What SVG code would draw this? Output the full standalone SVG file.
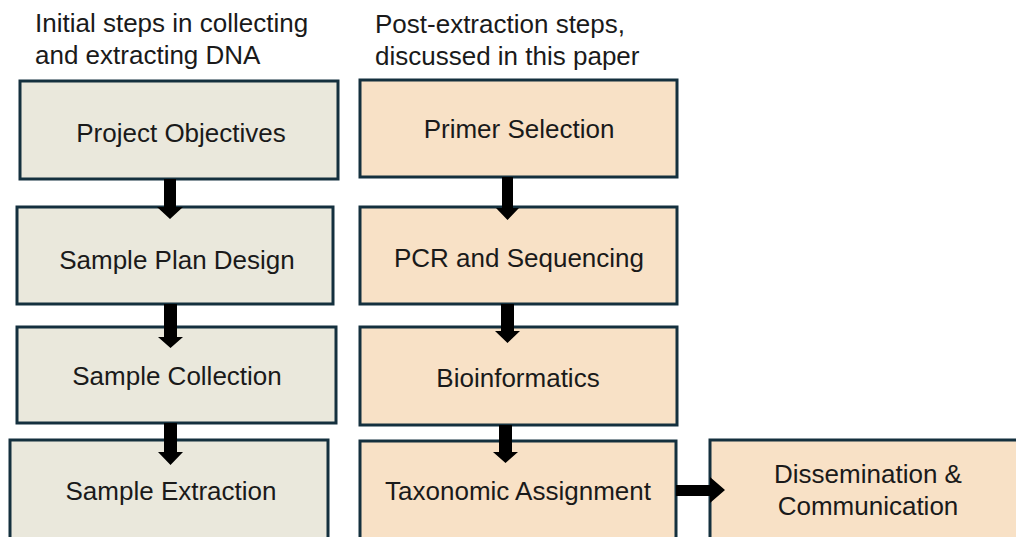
<svg xmlns="http://www.w3.org/2000/svg" width="1016" height="537" viewBox="0 0 1016 537">
<style>
text{font-family:"Liberation Sans",Arial,sans-serif;font-size:26px;fill:#1a1a1a}
.c{text-anchor:middle}
.l{fill:#EAE8DC;stroke:#14303E;stroke-width:3}
.r{fill:#F8E1C6;stroke:#14303E;stroke-width:3}
.a{fill:#000}
</style>
<rect width="1016" height="537" fill="#fff"/>
<g id="headers">
<text x="35" y="31.5">Initial steps in collecting</text>
<text x="35" y="64">and extracting DNA</text>
<text x="375" y="32.5">Post-extraction steps,</text>
<text x="375" y="65">discussed in this paper</text>
</g>
<g id="project-objectives"><rect class="l" x="20" y="81" width="318" height="98"/><text class="c" x="181" y="141.5">Project Objectives</text></g>
<g id="sample-plan-design"><rect class="l" x="17" y="207" width="316" height="97"/><text class="c" x="177" y="269">Sample Plan Design</text></g>
<g id="sample-collection"><rect class="l" x="17" y="327" width="319" height="96"/><text class="c" x="177" y="385">Sample Collection</text></g>
<g id="sample-extraction"><rect class="l" x="10" y="440" width="318" height="110"/><text class="c" x="171" y="500">Sample Extraction</text></g>
<g id="primer-selection"><rect class="r" x="360" y="80" width="317" height="97"/><text class="c" x="519" y="138">Primer Selection</text></g>
<g id="pcr-sequencing"><rect class="r" x="360" y="207" width="317" height="97"/><text class="c" x="519" y="267">PCR and Sequencing</text></g>
<g id="bioinformatics"><rect class="r" x="360" y="327" width="317" height="98"/><text class="c" x="518" y="386.5">Bioinformatics</text></g>
<g id="taxonomic-assignment"><rect class="r" x="360" y="441" width="316" height="110"/><text class="c" x="518" y="500">Taxonomic Assignment</text></g>
<g id="dissemination"><rect class="r" x="710" y="440" width="320" height="110"/><text class="c" x="868" y="483">Dissemination &amp;</text><text class="c" x="868" y="515">Communication</text></g>
<g id="connectors">
<polygon class="a" points="164,179 176,179 176,207 183,207 170,219 157,207 164,207"/>
<polygon class="a" points="164,304 177,304 177,337 183,337 170.5,348 158,337 164,337"/>
<polygon class="a" points="164,423 177,423 177,452 183,452 170.5,465 158,452 164,452"/>
<polygon class="a" points="502,177 513,177 513,208 519,208 507.5,220 496,208 502,208"/>
<polygon class="a" points="501,304 514,304 514,331 520,331 507.5,343 495,331 501,331"/>
<polygon class="a" points="499,425 512,425 512,452 518,452 505.5,463 493,452 499,452"/>
<polygon class="a" points="676,485 710,485 710,477 725,490 710,503 710,496 676,496"/>
</g>
</svg>
